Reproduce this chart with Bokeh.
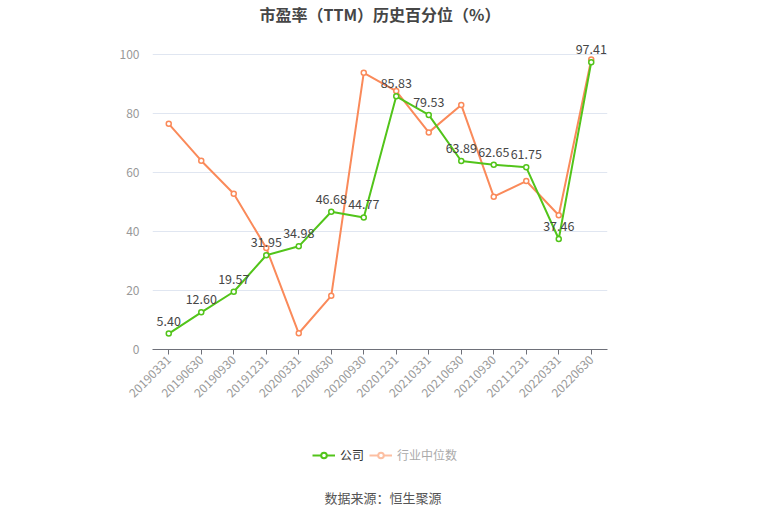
import math
from bokeh.plotting import figure
from bokeh.layouts import column
from bokeh.models import (ColumnDataSource, LabelSet, Label, Legend, LegendItem,
                          FactorRange, Range1d)
from bokeh.core.properties import value
from bokeh.embed import file_html
from bokeh.resources import INLINE

categories = ["20190331", "20190630", "20190930", "20191231", "20200331", "20200630",
              "20200930", "20201231", "20210331", "20210630", "20210930", "20211231",
              "20220331", "20220630"]
company = [5.40, 12.60, 19.57, 31.95, 34.98, 46.68, 44.77, 85.83, 79.53, 63.89,
           62.65, 61.75, 37.46, 97.41]
industry = [76.5, 64.0, 52.8, 34.4, 5.5, 18.2, 93.8, 87.6, 73.6, 82.9, 51.8, 57.1,
            45.5, 98.3]
y_ticks = [0, 20, 40, 60, 80, 100]

title_text = "市盈率（TTM）历史百分位（%）"
source_text = "数据来源：恒生聚源"
name_company = "公司"
name_industry = "行业中位数"

GREEN = "#52c41a"
ORANGE = "#fa8a5a"
ORANGE_LIGHT = "#fcbfa2"
FONT = "Noto Sans CJK SC"


def strip(height):
    f = figure(width=757, height=height, x_range=Range1d(0, 455),
               y_range=Range1d(0, height), output_backend="svg", toolbar_location=None,
               min_border_left=152, min_border_right=150, min_border_top=0,
               min_border_bottom=0, x_axis_location=None, y_axis_location=None)
    f.outline_line_color = None
    f.xgrid.grid_line_color = None
    f.ygrid.grid_line_color = None
    return f


# title strip
t = strip(26)
t.add_layout(Label(x=227.5, y=13, text=title_text, text_align="center",
                   text_baseline="middle", text_font=FONT, text_font_size="16px",
                   text_font_style="bold", text_color="#464646"))

# main chart
p = figure(width=757, height=403, x_range=FactorRange(*categories, range_padding=0),
           y_range=Range1d(0, 104.75), output_backend="svg", toolbar_location=None,
           min_border_left=152, min_border_right=150, min_border_top=14,
           min_border_bottom=80)
p.outline_line_color = None
p.background_fill_color = "white"
p.border_fill_color = "white"

src = ColumnDataSource(dict(x=categories, c=company, i=industry,
                            lab=["%.2f" % v for v in company]))

p.line("x", "i", source=src, line_color=ORANGE, line_width=2)
p.scatter("x", "i", source=src, size=5, marker="circle", fill_color="white",
          line_color=ORANGE, line_width=1.5)
p.line("x", "c", source=src, line_color=GREEN, line_width=2)
p.scatter("x", "c", source=src, size=5, marker="circle", fill_color="white",
          line_color=GREEN, line_width=1.5)

labels = LabelSet(x="x", y="c", text="lab", source=src, y_offset=8,
                  text_align="center", text_baseline="bottom",
                  text_font_size="12.5px", text_color="#464646", text_font=value(FONT))
p.add_layout(labels)

p.yaxis.ticker = y_ticks
p.yaxis.axis_line_color = None
p.yaxis.major_tick_line_color = None
p.yaxis.minor_tick_line_color = None
p.yaxis.major_label_text_color = "#999999"
p.yaxis.major_label_text_font_size = "12px"
p.yaxis.major_label_text_font = FONT
p.yaxis.major_label_standoff = 7

p.xaxis.axis_line_color = "#6e7079"
p.xaxis.major_tick_line_color = "#6e7079"
p.xaxis.major_tick_in = 0
p.xaxis.major_tick_out = 5
p.xaxis.minor_tick_line_color = None
p.xaxis.major_label_orientation = math.pi / 4
p.xaxis.major_label_text_color = "#999999"
p.xaxis.major_label_text_font_size = "12px"
p.xaxis.major_label_text_font = FONT
p.xaxis.major_label_standoff = 3

p.xgrid.grid_line_color = None
p.ygrid.grid_line_color = "#e0e6f1"
p.ygrid.grid_line_width = 1

# bottom strip: legend + source
q = strip(80)

off = dict(x=[-1000], y=[-1000])
lg_l1 = q.line(off["x"], off["y"], line_color=GREEN, line_width=2)
lg_s1 = q.scatter(off["x"], off["y"], size=9, marker="circle", fill_color="white",
                  line_color=GREEN, line_width=2)
lg_l2 = q.line(off["x"], off["y"], line_color=ORANGE_LIGHT, line_width=2)
lg_s2 = q.scatter(off["x"], off["y"], size=9, marker="circle", fill_color="white",
                  line_color=ORANGE_LIGHT, line_width=2)

leg1 = Legend(items=[LegendItem(label=name_company, renderers=[lg_l1, lg_s1])],
              location=(160, 46), label_text_color="#333333")
leg2 = Legend(items=[LegendItem(label=name_industry, renderers=[lg_l2, lg_s2])],
              location=(217, 46), label_text_color="#aaaaaa")
for lg in (leg1, leg2):
    lg.padding = 0
    lg.margin = 0
    lg.border_line_color = None
    lg.background_fill_alpha = 0
    lg.glyph_width = 23
    lg.glyph_height = 14
    lg.label_text_font = FONT
    lg.label_text_font_size = "12px"
    lg.label_height = 14
    lg.label_standoff = 5
    lg.spacing = 0
    q.add_layout(lg)

q.add_layout(Label(x=230.5, y=12, text=source_text, text_align="center",
                   text_baseline="middle", text_font=FONT,
                   text_font_size="13px", text_color="#555555"))

layout = column(t, p, q, spacing=0)
open("out.html", "w").write(file_html(layout, INLINE))
